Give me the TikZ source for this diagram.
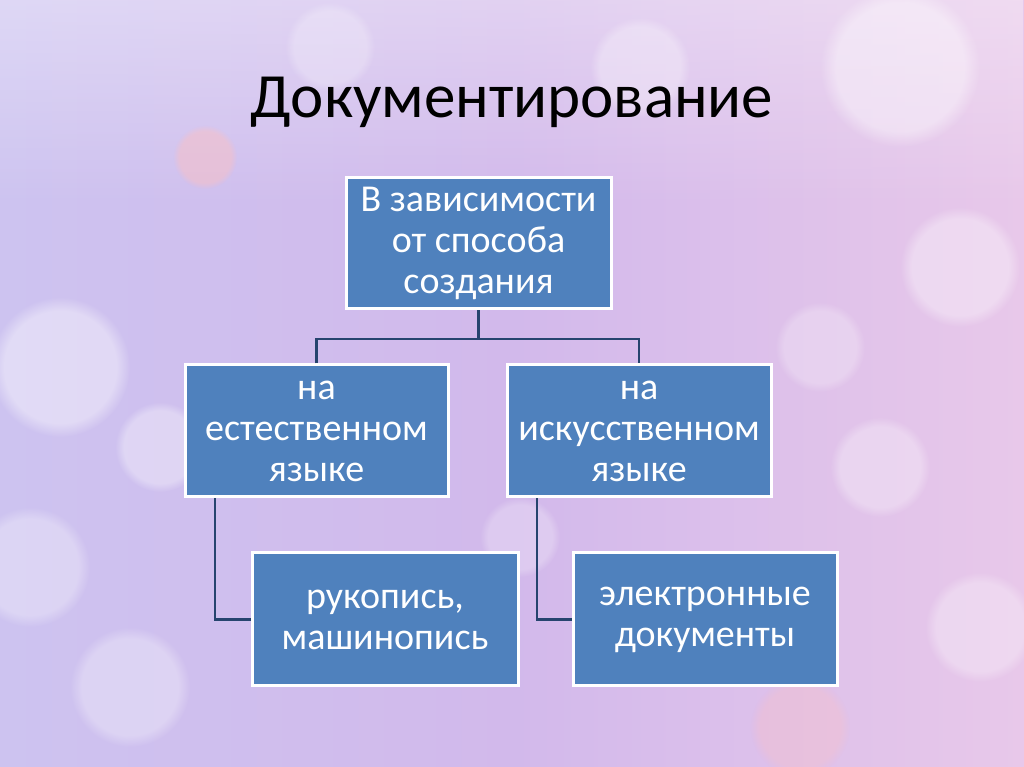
\documentclass[tikz,border=0pt]{standalone}
\usepackage{fontspec}
\setmainfont{Carlito}
\usetikzlibrary{fadings}
\definecolor{boxblue}{RGB}{79,129,189}
\definecolor{linkblue}{RGB}{38,68,110}
\definecolor{bgleft}{RGB}{205,195,240}
\definecolor{bgmid}{RGB}{210,185,235}
\definecolor{bgright}{RGB}{232,200,234}
\tikzset{
  boxnode/.style={draw=white, line width=3pt, fill=boxblue, text=white,
    align=center, inner sep=2pt, font=\fontsize{38}{41}\selectfont},
  link/.style={draw=linkblue, line width=2.6pt},
  bokeh/.style={fill=white, path fading=circle with fuzzy edge 20 percent}
}
\begin{document}
\begin{tikzpicture}[x=1pt,y=1pt]
\useasboundingbox (0,0) rectangle (1024,767);
% background
\shade[left color=bgleft, right color=bgright, middle color=bgmid] (0,0) rectangle (1024,767);
\fill[white, opacity=0.35, path fading=south] (0,560) rectangle (1024,767);
\fill[bokeh, opacity=0.4] (60,400) circle (70);
\fill[bokeh, opacity=0.35] (160,320) circle (45);
\fill[bokeh, opacity=0.3] (30,200) circle (60);
\fill[bokeh, opacity=0.3] (130,80) circle (60);
\fill[bokeh, opacity=0.4] (900,700) circle (80);
\fill[bokeh, opacity=0.35] (960,500) circle (60);
\fill[bokeh, opacity=0.3] (880,300) circle (50);
\fill[bokeh, opacity=0.3] (980,140) circle (55);
\fill[bokeh, opacity=0.25] (820,420) circle (45);
\fill[bokeh, opacity=0.3] (640,700) circle (50);
\fill[bokeh, opacity=0.25] (330,720) circle (45);
\fill[bokeh, opacity=0.25] (520,230) circle (40);
\fill[pink, path fading=circle with fuzzy edge 20 percent, opacity=0.45] (205,610) circle (32);
\fill[pink, path fading=circle with fuzzy edge 20 percent, opacity=0.3] (800,40) circle (50);
% title
\node (title) at (512,665) {\fontsize{63}{66}\selectfont Документирование};
% boxes
\node[boxnode, minimum width=265pt, minimum height=131pt] (top) at (478.5,523.5)
  {В зависимости\\от способа\\создания};
\node[boxnode, minimum width=263pt, minimum height=132pt] (nat) at (316.5,336)
  {на\\естественном\\языке};
\node[boxnode, minimum width=264pt, minimum height=132pt] (art) at (639,336)
  {на\\искусственном\\языке};
\node[boxnode, minimum width=266pt, minimum height=133pt] (hand) at (385,147.5)
  {рукопись,\\машинопись};
\node[boxnode, minimum width=264pt, minimum height=133pt] (elec) at (705,147.5)
  {электронные\\документы};
% connectors
\coordinate (split) at (478.5,428);
\draw[link] (top.south) -- (split);
\draw[link] (nat.north) |- (split) -| (art.north);
\draw[link] ([xshift=-101.5pt]nat.south) |- (hand.west);
\draw[link] ([xshift=-102pt]art.south) |- (elec.west);
\end{tikzpicture}
\end{document}
